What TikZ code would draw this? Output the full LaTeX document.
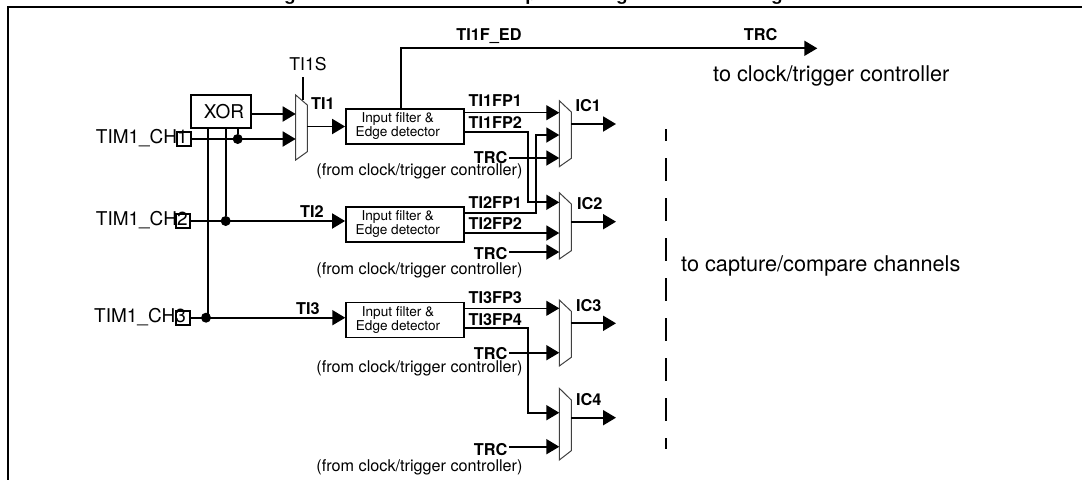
\documentclass[tikz,border=0pt]{standalone}
\usepackage{fontspec}
\setmainfont{TeX Gyre Heros}
\usetikzlibrary{arrows.meta, calc}
\tikzset{
  sig/.style={line width=1.9pt},
  arrow/.style={-{Triangle[length=13pt,width=15pt]},line width=1.9pt},
  tharrow/.style={-{Triangle[length=13pt,width=15pt]},line width=1.1pt},
  muxbox/.style={draw=black!75,fill=white,line width=1pt},
  filt/.style={rectangle,draw,line width=1.9pt,minimum width=117.5pt,minimum height=35pt,
    inner sep=0pt,align=center,font=\fontsize{13.6}{14}\selectfont},
  pinbox/.style={rectangle,draw,line width=1.9pt,minimum width=14pt,minimum height=14pt,inner sep=0pt},
  junct/.style={circle,fill=black,minimum size=10pt,inner sep=0pt},
  lab/.style={inner sep=0pt,font=\fontsize{19}{21}\selectfont},
  biglab/.style={inner sep=0pt,font=\fontsize{21.7}{24}\selectfont},
  blab/.style={inner sep=0pt,font=\fontsize{16.3}{18}\selectfont\bfseries},
  small/.style={inner sep=0pt,font=\fontsize{16.2}{18}\selectfont},
  titlebit/.style={inner sep=0pt,anchor=base,font=\fontsize{18}{20}\selectfont\bfseries},
}
% mux outline: x left, x right, top left, top right, bottom right, bottom left
\newcommand{\muxdraw}[6]{\draw[muxbox] (#1,#3) -- (#2,#4) -- (#2,#5) -- (#1,#6) -- cycle;}
\newcommand{\filttext}{\hspace*{-14pt}Input filter \&\\\hspace*{-14pt}Edge detector}
\begin{document}
\begin{tikzpicture}[x=1pt,y=-1pt]
  \useasboundingbox (0,0) rectangle (1082,480);
  % frame, title runs off the top
  \draw[line width=2pt] (1082,6.5) -- (8,6.5) -- (8,480);
  \node[titlebit] (tg1) at (290,0.6) {g};
  \node[titlebit] (tp1) at (531,0.6) {p};
  \node[titlebit] (tg2) at (622,0.6) {g};
  \node[titlebit] (tg3) at (777,0.6) {g};

  % input filters
  \node[filt] (flt1) at (404.8,126.3) {\filttext};
  \node[filt] (flt2) at (404.8,224.2) {\filttext};
  \node[filt] (flt3) at (405,320) {\filttext};

  % XOR and pins
  \node[rectangle,draw,line width=1.9pt,minimum width=60.5pt,minimum height=32.5pt,inner sep=0pt,
    lab] (xor) at (221,111.3) {\hspace*{6pt}XOR};
  \node[lab,anchor=west] (ch1) at (95.7,138.5) {TIM1\_CH1};
  \node[lab,anchor=west] (ch2) at (95.7,220) {TIM1\_CH2};
  \node[lab,anchor=west] (ch3) at (94,317) {TIM1\_CH3};
  \node[pinbox] (pin1) at (183.8,139) {};
  \node[pinbox] (pin2) at (183,221) {};
  \node[pinbox] (pin3) at (183,317.7) {};
  \node[junct] (j1) at (237.7,139) {};
  \node[junct] (j2) at (225.7,221) {};
  \node[junct] (j3) at (206,317.7) {};

  % muxes
  \muxdraw{295.7}{307.3}{95}{105}{151.7}{160}
  \muxdraw{559.3}{571.3}{100.7}{112}{158.3}{166.7}
  \muxdraw{559.3}{571.3}{192.7}{204}{250.7}{259}
  \muxdraw{559.3}{571.3}{300}{311.3}{357.3}{366}
  \muxdraw{559.3}{571.3}{388.3}{400}{450.7}{460}

  % mux input points
  \coordinate (m0a) at (295.7,114);
  \coordinate (m0b) at (295.7,139);
  \coordinate (m0o) at (307.3,126.5);
  \coordinate (m1a) at (559.3,112.7);
  \coordinate (m1b) at (559.3,135);
  \coordinate (m1c) at (559.3,158);
  \coordinate (m1o) at (571.3,124);
  \coordinate (m2a) at (559.3,202.3);
  \coordinate (m2b) at (559.3,233);
  \coordinate (m2c) at (559.3,252);
  \coordinate (m2o) at (571.3,221.7);
  \coordinate (m3a) at (559.3,308.3);
  \coordinate (m3b) at (559.3,352.7);
  \coordinate (m3o) at (571.3,323.3);
  \coordinate (m4a) at (559.3,412.7);
  \coordinate (m4b) at (559.3,446.7);
  \coordinate (m4o) at (571.3,417.7);

  % left side wiring
  \draw[arrow] (xor.east |- m0a) -- (m0a);
  \draw[arrow] (pin1.east) -- (m0b);
  \draw[sig] (j1) -- (j1 |- xor.south);
  \draw[sig] (207.7,127.5) -- (207.7,317.7);
  \draw[sig] (j2) -- (j2 |- xor.south);
  \draw[arrow] (pin2.east) -- (flt2.west |- pin2.east);
  \draw[arrow] (pin3.east) -- (flt3.west |- pin3.east);
  \draw[arrow] (m0o) -- (flt1.west |- m0o);
  \node[lab,font=\fontsize{17.6}{20}\selectfont] (ti1s) at (308,64) {TI1S};
  \draw[sig] (302.7,77) -- (302.7,100);
  \node[blab] (ti1) at (323,104) {TI1};
  \node[blab] (ti2) at (312,211.7) {TI2};
  \node[blab] (ti3) at (308,308.3) {TI3};

  % TRC output
  \coordinate (trcout) at (817.3,48.3);
  \draw[arrow] (401,108.7) |- (trcout);
  \node[blab] (tied) at (489,36) {TI1F\_ED};
  \node[blab] (trc0) at (760.7,35) {TRC};
  \node[biglab,anchor=west] (toclk) at (713,76) {to clock/trigger controller};

  % filter outputs
  \draw[tharrow] (flt1.east |- m1a) -- (m1a);
  \draw[arrow] (flt1.east |- 0,131.7) -- (528.3,131.7) -- (528.3,202.3) -- (m2a);
  \draw[arrow] (flt2.east |- 0,213) -- (536,213) -- (536,135) -- (m1b);
  \draw[arrow] (flt2.east |- m2b) -- (m2b);
  \draw[tharrow] (flt3.east |- m3a) -- (m3a);
  \draw[arrow] (flt3.east |- 0,327.7) -- (528.3,327.7) -- (528.3,412.7) -- (m4a);
  \node[blab] (fp11) at (495.3,100.7) {TI1FP1};
  \node[blab] (fp12) at (495.3,122.7) {TI1FP2};
  \node[blab] (fp21) at (495.3,202.7) {TI2FP1};
  \node[blab] (fp22) at (495.3,224) {TI2FP2};
  \node[blab] (fp33) at (495.3,297.3) {TI3FP3};
  \node[blab] (fp34) at (495.3,319.3) {TI3FP4};

  % TRC inputs
  \node[blab,anchor=east] (trc1) at (507.5,157.3) {TRC};
  \node[blab,anchor=east] (trc2) at (507.5,254) {TRC};
  \node[blab,anchor=east] (trc3) at (507.5,353.3) {TRC};
  \node[blab,anchor=east] (trc4) at (507.5,449.3) {TRC};
  \draw[arrow] (509,158) -- (m1c);
  \draw[arrow] (509,252) -- (m2c);
  \draw[arrow] (509,352.7) -- (m3b);
  \draw[arrow] (509,446.7) -- (m4b);
  \node[small,anchor=east] (frm1) at (522.7,171.7) {(from clock/trigger controller)};
  \node[small,anchor=east] (frm2) at (522.7,270) {(from clock/trigger controller)};
  \node[small,anchor=east] (frm3) at (522.7,368) {(from clock/trigger controller)};
  \node[small,anchor=east] (frm4) at (522.7,467.3) {(from clock/trigger controller)};

  % outputs
  \draw[arrow] (m1o) -- (616,124);
  \draw[arrow] (m2o) -- (616,221.7);
  \draw[arrow] (m3o) -- (616,323.3);
  \draw[arrow] (m4o) -- (616,417.7);
  \node[blab] (ic1) at (588.3,106) {IC1};
  \node[blab] (ic2) at (589.7,203.3) {IC2};
  \node[blab] (ic3) at (588.8,306) {IC3};
  \node[blab] (ic4) at (588.8,399.3) {IC4};

  % dashed separator
  \draw[line width=2pt,dash pattern=on 23pt off 17pt,dash phase=11.3pt] (665.7,129.3) -- (665.7,449);
  \node[biglab,anchor=west] (tocap) at (681,266) {to capture/compare channels};
\end{tikzpicture}
\end{document}
